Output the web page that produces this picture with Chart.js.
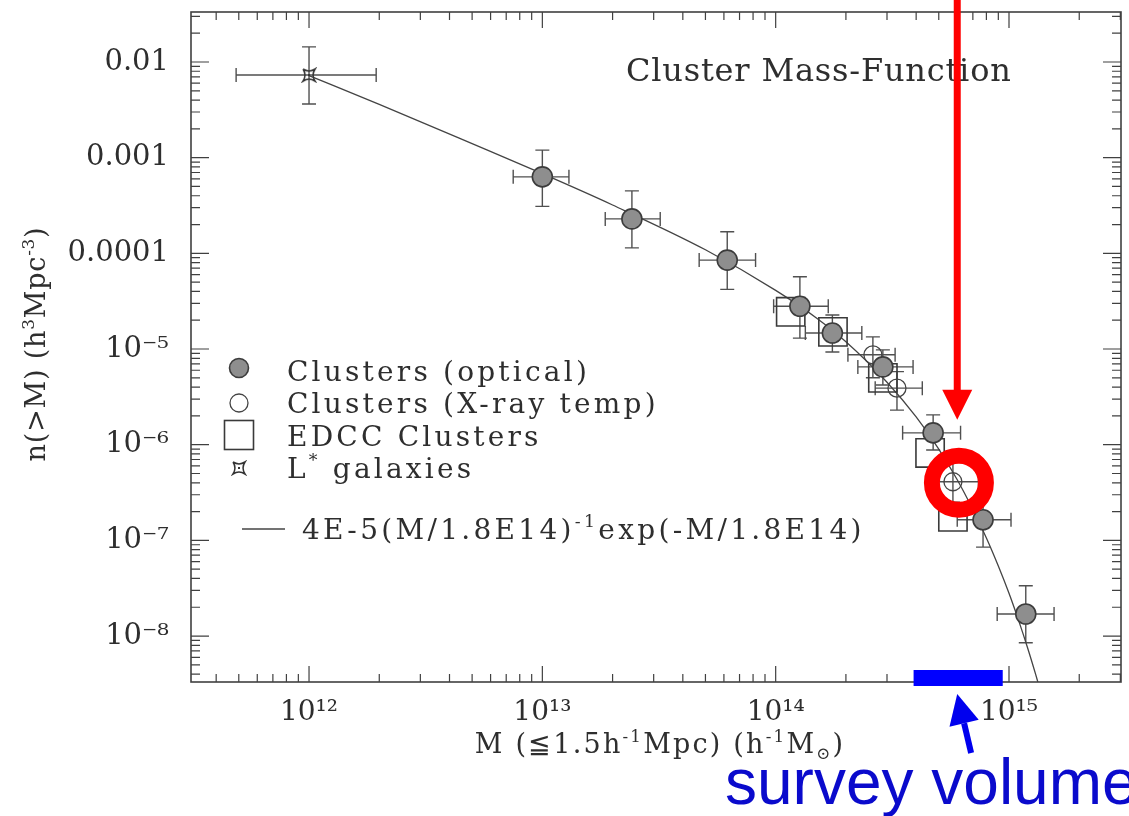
<!DOCTYPE html>
<html><head><meta charset="utf-8">
<script src="https://cdn.jsdelivr.net/npm/chart.js@4.4.1/dist/chart.umd.min.js"></script>
<style>html,body{margin:0;padding:0;background:#fff;overflow:hidden}#wrap{width:1129px;height:816px}</style>
</head><body><div id="wrap"><canvas id="c" width="1129" height="816"></canvas></div>
<script>
// ---------- data ----------
// axis ticks
const xTickValues = [1e12, 1e13, 1e14, 1e15];
const xTickLabels = ['10¹²', '10¹³', '10¹⁴', '10¹⁵'];
const yTickValues = [1e-2, 1e-3, 1e-4, 1e-5, 1e-6, 1e-7, 1e-8];
const yTickLabels = ['0.01', '0.001', '0.0001', '10⁻⁵', '10⁻⁶', '10⁻⁷', '10⁻⁸'];
const xMin = 3.12e11, xMax = 3.02e15, yMin = 3.31e-9, yMax = 0.0333;

// Clusters (optical)
const optM    = [1.0e13, 2.42e13, 6.2e13, 1.27e14, 1.75e14, 2.88e14, 4.73e14, 7.74e14, 1.18e15];
const optN    = [6.3e-4, 2.29e-4, 8.5e-5, 2.8e-5, 1.47e-5, 6.5e-6, 1.33e-6, 1.64e-7, 1.7e-8];
const optMlo  = [7.5e12, 1.86e13, 4.7e13, 9.8e13, 1.34e14, 2.25e14, 3.5e14, 6.0e14, 8.9e14];
const optMhi  = [1.3e13, 3.2e13, 8.2e13, 1.68e14, 2.34e14, 3.88e14, 6.2e14, 1.02e15, 1.56e15];
const optNlo  = [3.1e-4, 1.14e-4, 4.2e-5, 1.3e-5, 9.3e-6, 4.2e-6, 8.8e-7, 8.5e-8, 8.5e-9];
const optNhi  = [1.2e-3, 4.5e-4, 1.68e-4, 5.7e-5, 2.27e-5, 9.8e-6, 2.05e-6, 3.0e-7, 3.35e-8];

// Clusters (X-ray temp)
const xrM   = [2.61e14, 3.31e14, 5.75e14];
const xrN   = [8.7e-6, 3.9e-6, 4.1e-7];
const xrMlo = [2.04e14, 2.67e14, 4.6e14];
const xrMhi = [3.25e14, 4.25e14, 7.4e14];
const xrNlo = [5.0e-6, 2.3e-6, 2.5e-7];
const xrNhi = [1.34e-5, 5.8e-6, 6.6e-7];

// EDCC Clusters
const edccM = [1.16e14, 1.76e14, 2.88e14, 4.59e14, 5.75e14];
const edccN = [2.45e-5, 1.51e-5, 5.0e-6, 8.2e-7, 1.76e-7];

// L* galaxies
const lgM = [1.0e12], lgN = [7.3e-3];
const lgMlo = [4.87e11], lgMhi = [1.94e12], lgNlo = [3.64e-3], lgNhi = [1.44e-2];

// fitted curve 4E-5(M/1.8E14)^-1 exp(-M/1.8E14), sampled off the drawn line
const curveM = [1e12, 2e12, 5e12, 1e13, 2e13, 5e13, 1e14, 1.5e14, 2e14, 3e14, 4e14, 5e14, 6e14, 7e14, 8e14, 9e14, 1e15, 1.1e15, 1.2e15, 1.3e15, 1.33e15];
const curveN = [7.2e-3, 3.6e-3, 1.4e-3, 6.8e-4, 3.2e-4, 1.09e-4, 4.1e-5, 2.1e-5, 1.19e-5, 4.5e-6, 1.95e-6, 9.0e-7, 4.3e-7, 2.1e-7, 1.06e-7, 5.4e-8, 2.8e-8, 1.45e-8, 7.6e-9, 4.0e-9, 3.3e-9];

// annotation anchors (data coordinates)
const redArrowM = 6.0e14, redArrowTipN = 1.82e-6;
const redRingM = 6.1e14, redRingN = 4.0e-7;
const surveyMlo = 3.9e14, surveyMhi = 9.4e14;
const blueArrowTipM = 6.0e14, blueArrowTailM = 6.88e14;

// ---------- helpers ----------
const SERIF = '"DejaVu Serif", "Liberation Serif", serif';
const INK = '#2e2e2e';
function zip(a, b) { return a.map((v, i) => ({ x: v, y: b[i] })); }
function errs(mlo, mhi, nlo, nhi) { return mlo.map((v, i) => [v, mhi[i], nlo[i], nhi[i]]); }

function makeLstar(s) {
  const c = document.createElement('canvas'); c.width = c.height = s;
  const g = c.getContext('2d'); const h = s / 2, a = s / 2 - 2, b = a * 0.35;
  g.strokeStyle = '#333'; g.lineWidth = 1.5; g.beginPath();
  g.moveTo(h - a, h - a);
  g.quadraticCurveTo(h, h - b, h + a, h - a);
  g.quadraticCurveTo(h + b, h, h + a, h + a);
  g.quadraticCurveTo(h, h + b, h - a, h + a);
  g.quadraticCurveTo(h - b, h, h - a, h - a);
  g.stroke();
  g.fillStyle = '#333'; g.fillRect(h - 1, h - 1, 2, 2);
  return c;
}
const lstar = makeLstar(16);

function richText(ctx, segs, x, y, size, family, align, spacing) {
  ctx.save();
  ctx.letterSpacing = (spacing || 0) + 'px';
  ctx.textAlign = 'left'; ctx.textBaseline = 'alphabetic';
  const parts = segs.map(([t, k]) => {
    const fs = k ? size * 0.62 : size;
    ctx.font = fs + 'px ' + family;
    return { t, k, fs, w: ctx.measureText(t).width };
  });
  const total = parts.reduce((a, p) => a + p.w, 0);
  let cx = align === 'center' ? x - total / 2 : align === 'right' ? x - total : x;
  for (const p of parts) {
    ctx.font = p.fs + 'px ' + family;
    const dy = p.k === 1 ? -size * 0.42 : p.k === 2 ? size * 0.22 : 0;
    ctx.fillText(p.t, cx, y + dy);
    cx += p.w;
  }
  ctx.restore();
}

// ---------- plugins ----------
const errorBars = {
  id: 'errorBars',
  beforeDatasetsDraw(chart) {
    const { ctx, scales: { x, y } } = chart;
    ctx.save();
    ctx.strokeStyle = '#505050'; ctx.lineWidth = 1.4;
    chart.data.datasets.forEach((ds, di) => {
      if (!ds.err || !chart.isDatasetVisible(di)) return;
      ds.data.forEach((p, i) => {
        const [mlo, mhi, nlo, nhi] = ds.err[i];
        const px = x.getPixelForValue(p.x), py = y.getPixelForValue(p.y);
        const x0 = x.getPixelForValue(mlo), x1 = x.getPixelForValue(mhi);
        const y0 = y.getPixelForValue(nlo), y1 = y.getPixelForValue(nhi);
        const c = 7;
        ctx.beginPath();
        ctx.moveTo(x0, py); ctx.lineTo(x1, py);
        ctx.moveTo(x0, py - c); ctx.lineTo(x0, py + c);
        ctx.moveTo(x1, py - c); ctx.lineTo(x1, py + c);
        ctx.moveTo(px, y0); ctx.lineTo(px, y1);
        ctx.moveTo(px - c, y0); ctx.lineTo(px + c, y0);
        ctx.moveTo(px - c, y1); ctx.lineTo(px + c, y1);
        ctx.stroke();
      });
    });
    ctx.restore();
  }
};

const frameAndText = {
  id: 'frameAndText',
  afterDraw(chart) {
    const { ctx, chartArea: a, scales: { x, y } } = chart;
    ctx.save();
    // frame
    ctx.strokeStyle = '#404040'; ctx.lineWidth = 1.6;
    ctx.strokeRect(a.left, a.top, a.right - a.left, a.bottom - a.top);
    // tick marks on all four sides
    ctx.lineWidth = 1.2; ctx.beginPath();
    for (let e = 11; e <= 15; e++) for (let m = 1; m <= 9; m++) {
      const v = m * Math.pow(10, e); if (v < xMin || v > xMax) continue;
      const px = x.getPixelForValue(v), L = m === 1 ? 16 : 8;
      ctx.moveTo(px, a.bottom); ctx.lineTo(px, a.bottom - L);
      ctx.moveTo(px, a.top); ctx.lineTo(px, a.top + L);
    }
    for (let e = -9; e <= -2; e++) for (let m = 1; m <= 9; m++) {
      const v = m * Math.pow(10, e); if (v < yMin || v > yMax) continue;
      const py = y.getPixelForValue(v), L = m === 1 ? 18 : 9;
      ctx.moveTo(a.left, py); ctx.lineTo(a.left + L, py);
      ctx.moveTo(a.right, py); ctx.lineTo(a.right - L, py);
    }
    ctx.stroke();

    ctx.fillStyle = INK;
    // inner title
    richText(ctx, [['Cluster Mass-Function']], 626, 81, 32, SERIF, 'left', 0.8);
    // legend
    const lx = 239;
    const rows = [368, 403, 435, 468];
    ctx.fillStyle = '#8e8e8e'; ctx.strokeStyle = '#3c3c3c'; ctx.lineWidth = 1.6;
    ctx.beginPath(); ctx.arc(lx, rows[0], 9.5, 0, Math.PI * 2); ctx.fill(); ctx.stroke();
    ctx.strokeStyle = '#444'; ctx.lineWidth = 1.3;
    ctx.beginPath(); ctx.arc(lx, rows[1], 9, 0, Math.PI * 2); ctx.stroke();
    ctx.strokeStyle = '#3a3a3a'; ctx.lineWidth = 1.6;
    ctx.strokeRect(lx - 14.5, rows[2] - 14.5, 29, 29);
    ctx.drawImage(lstar, lx - 8, rows[3] - 8);
    ctx.fillStyle = INK;
    const lt = ['Clusters (optical)', 'Clusters (X-ray temp)', 'EDCC Clusters'];
    const base = [381, 413, 446, 478];
    lt.forEach((t, i) => richText(ctx, [[t]], 287, base[i], 28, SERIF, 'left', 3.2));
    richText(ctx, [['L'], ['*', 1], [' galaxies']], 287, base[3], 28, SERIF, 'left', 3.2);
    // fit legend
    ctx.strokeStyle = '#444'; ctx.lineWidth = 1.3;
    ctx.beginPath(); ctx.moveTo(242, 529); ctx.lineTo(285, 529); ctx.stroke();
    richText(ctx, [['4E-5(M/1.8E14)'], ['-1', 1], ['exp(-M/1.8E14)']], 302, 539, 28, SERIF, 'left', 3.3);
    // axis titles
    richText(ctx, [['M (≦1.5h'], ['-1', 1], ['Mpc) (h'], ['-1', 1], ['M'], ['⊙', 2], [')']], 660, 753, 27, SERIF, 'center', 2.2);
    ctx.save();
    ctx.translate(45, 344); ctx.rotate(-Math.PI / 2);
    richText(ctx, [['n(>M) (h'], ['3', 1], ['Mpc'], ['-3', 1], [')']], 0, 0, 27, SERIF, 'center', 0.8);
    ctx.restore();

    // ---- red annotation: arrow + ring ----
    const rx = x.getPixelForValue(redArrowM), tipY = y.getPixelForValue(redArrowTipN);
    ctx.fillStyle = '#ff0000'; ctx.strokeStyle = '#ff0000';
    ctx.fillRect(rx - 3.5, 0, 7, tipY - 28);
    ctx.beginPath(); ctx.moveTo(rx - 15, tipY - 30); ctx.lineTo(rx + 15, tipY - 30); ctx.lineTo(rx, tipY); ctx.closePath(); ctx.fill();
    ctx.lineWidth = 16;
    ctx.beginPath(); ctx.arc(x.getPixelForValue(redRingM), y.getPixelForValue(redRingN), 27, 0, Math.PI * 2); ctx.stroke();

    // ---- blue annotation: survey bar + arrow + label ----
    const bx0 = x.getPixelForValue(surveyMlo), bx1 = x.getPixelForValue(surveyMhi);
    ctx.fillStyle = '#0000ff';
    ctx.fillRect(bx0, a.bottom - 12, bx1 - bx0, 16);
    const tx = x.getPixelForValue(blueArrowTipM), ty = a.bottom + 12;
    const sx = x.getPixelForValue(blueArrowTailM), sy = a.bottom + 71;
    const ang = Math.atan2(ty - sy, tx - sx);
    const hl = 30, hw = 15;
    const bxp = tx - hl * Math.cos(ang), byp = ty - hl * Math.sin(ang);
    ctx.strokeStyle = '#0000ee'; ctx.fillStyle = '#0000ee'; ctx.lineWidth = 6;
    ctx.beginPath(); ctx.moveTo(sx, sy); ctx.lineTo(bxp, byp); ctx.stroke();
    ctx.beginPath(); ctx.moveTo(tx, ty);
    ctx.lineTo(bxp + hw * Math.sin(ang), byp - hw * Math.cos(ang));
    ctx.lineTo(bxp - hw * Math.sin(ang), byp + hw * Math.cos(ang));
    ctx.closePath(); ctx.fill();
    ctx.fillStyle = '#0a0acc';
    ctx.font = '64px "Liberation Sans", Arial, sans-serif';
    ctx.textAlign = 'left'; ctx.textBaseline = 'alphabetic';
    ctx.fillText('survey volume', 725, 804);
    ctx.restore();
  }
};

function noPad(s) { s.paddingTop = 0; s.paddingBottom = 0; s.paddingLeft = 0; s.paddingRight = 0; }

// ---------- chart ----------
new Chart(document.getElementById('c'), {
  type: 'scatter',
  data: {
    datasets: [
      { label: '4E-5(M/1.8E14)^-1 exp(-M/1.8E14)', type: 'line', data: zip(curveM, curveN),
        borderColor: '#444', borderWidth: 1.3, pointRadius: 0, fill: false,
        cubicInterpolationMode: 'monotone', order: 5 },
      { label: 'EDCC Clusters', data: zip(edccM, edccN), pointStyle: 'rect', pointRadius: 20,
        backgroundColor: 'rgba(0,0,0,0)', borderColor: '#3a3a3a', borderWidth: 1.6, order: 4 },
      { label: 'Clusters (X-ray temp)', data: zip(xrM, xrN), err: errs(xrMlo, xrMhi, xrNlo, xrNhi),
        pointStyle: 'circle', pointRadius: 9, backgroundColor: 'rgba(0,0,0,0)', borderColor: '#444', borderWidth: 1.3, order: 3 },
      { label: 'Clusters (optical)', data: zip(optM, optN), err: errs(optMlo, optMhi, optNlo, optNhi),
        pointStyle: 'circle', pointRadius: 10, backgroundColor: '#8e8e8e', borderColor: '#3c3c3c', borderWidth: 1.6, order: 2 },
      { label: 'L* galaxies', data: zip(lgM, lgN), err: errs(lgMlo, lgMhi, lgNlo, lgNhi),
        pointStyle: lstar, pointRadius: 8, order: 1 }
    ]
  },
  options: {
    responsive: false, animation: false, events: [],
    layout: { autoPadding: false, padding: { top: 12, right: 8, left: 0, bottom: 0 } },
    plugins: { legend: { display: false }, tooltip: { enabled: false } },
    scales: {
      x: {
        type: 'logarithmic', min: xMin, max: xMax,
        grid: { display: false, drawTicks: false }, border: { display: false },
        afterFit: s => { s.height = 134; noPad(s); },
        afterBuildTicks: s => { s.ticks = xTickValues.map(v => ({ value: v })); },
        ticks: { autoSkip: false, maxRotation: 0, padding: 14, color: INK,
          font: { family: 'DejaVu Serif', size: 28 },
          callback: v => { const i = xTickValues.findIndex(t => Math.abs(Math.log10(t) - Math.log10(v)) < 1e-6); return i >= 0 ? xTickLabels[i] : ''; } }
      },
      y: {
        type: 'logarithmic', min: yMin, max: yMax,
        grid: { display: false, drawTicks: false }, border: { display: false },
        afterFit: s => { s.width = 191; noPad(s); },
        afterBuildTicks: s => { s.ticks = yTickValues.map(v => ({ value: v })); },
        ticks: { autoSkip: false, padding: 22, color: INK,
          font: { family: 'DejaVu Serif', size: 29 },
          callback: v => { const i = yTickValues.findIndex(t => Math.abs(Math.log10(t) - Math.log10(v)) < 1e-6); return i >= 0 ? yTickLabels[i] : ''; } }
      }
    }
  },
  plugins: [errorBars, frameAndText]
});
</script>
</body></html>
